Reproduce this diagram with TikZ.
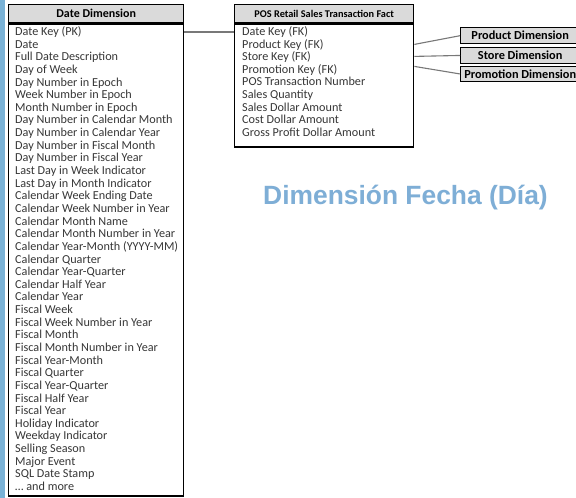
\documentclass[tikz,border=0pt]{standalone}
\usepackage{fontspec}
\setmainfont{Carlito}
\newfontfamily\titlefont{Liberation Sans}
\usetikzlibrary{calc}
\definecolor{barblue}{RGB}{122,178,214}
\definecolor{titleblue}{RGB}{126,174,214}
\definecolor{hdrgray}{RGB}{218,218,218}
\definecolor{itemgray}{RGB}{55,55,55}
\definecolor{linkgray}{RGB}{120,120,120}
\begin{document}
\begin{tikzpicture}[x=1pt,y=-1pt,
  frame/.style={draw=black, line width=1.4pt},
  hdr/.style={frame, fill=hdrgray, inner sep=0pt, anchor=north west},
  body/.style={frame, fill=white, inner sep=0pt, anchor=north west},
  item/.style={anchor=base west, inner sep=0pt, text=itemgray, font=\fontsize{12.2}{13}\selectfont},
  dimbox/.style={frame, fill=hdrgray, inner sep=0pt, anchor=north west, minimum width=119pt, font=\bfseries\fontsize{12.3}{13}\selectfont},
  link/.style={draw=linkgray, line width=1.1pt}]
\useasboundingbox (0,0) rectangle (576,498);
\fill[white] (0,0) rectangle (576,498);
% blue strip along the left edge
\fill[barblue] (0,0) rectangle (5,498);

% Date dimension table
\node[hdr, minimum width=175pt, minimum height=18pt, font=\bfseries\fontsize{12}{13}\selectfont] (dateh) at (8,4) {Date Dimension};
\node[body, minimum width=175pt, minimum height=472pt] (dateb) at (dateh.south west) {};
\foreach \t [count=\i] in {Date Key (PK), Date, Full Date Description, Day of Week,
  Day Number in Epoch, Week Number in Epoch, Month Number in Epoch,
  Day Number in Calendar Month, Day Number in Calendar Year,
  Day Number in Fiscal Month, Day Number in Fiscal Year,
  Last Day in Week Indicator, Last Day in Month Indicator,
  Calendar Week Ending Date, Calendar Week Number in Year, Calendar Month Name,
  Calendar Month Number in Year, Calendar Year-Month (YYYY-MM), Calendar Quarter,
  Calendar Year-Quarter, Calendar Half Year, Calendar Year, Fiscal Week,
  Fiscal Week Number in Year, Fiscal Month, Fiscal Month Number in Year,
  Fiscal Year-Month, Fiscal Quarter, Fiscal Year-Quarter, Fiscal Half Year,
  Fiscal Year, Holiday Indicator, Weekday Indicator, Selling Season, Major Event,
  SQL Date Stamp, {\ldots} and more}
  \node[item] (d\i) at (15,{35.5+12.64*(\i-1)}) {\t};

% Fact table
\node[hdr, minimum width=179pt, minimum height=18pt, font=\bfseries\fontsize{10.3}{12}\selectfont] (facth) at (234,4) {POS Retail Sales Transaction Fact};
\node[body, minimum width=179pt, minimum height=123pt] (factb) at (facth.south west) {};
\foreach \t [count=\i] in {Date Key (FK), Product Key (FK), Store Key (FK),
  Promotion Key (FK), POS Transaction Number, Sales Quantity,
  Sales Dollar Amount, Cost Dollar Amount, Gross Profit Dollar Amount}
  \node[item] (f\i) at (242,{35.5+12.6*(\i-1)}) {\t};

% Other dimensions
\node[dimbox, minimum height=16pt] (prod) at (460,27) {Product Dimension};
\node[dimbox, minimum height=15.5pt] (store) at (460,47) {Store Dimension};
\node[dimbox, minimum height=15.5pt] (promo) at (460,65.5) {Promotion Dimension};

% Key links
\draw[link] (dateb.east |- d1) -- (factb.west |- d1);
\draw[link] ($(factb.north east)+(0,21)$) -- (prod.west);
\draw[link] ($(factb.north east)+(0,33)$) -- (store.west);
\draw[link] ($(factb.north east)+(0,43)$) -- (promo.west);

% Caption
\node[anchor=base west, inner sep=0pt, text=titleblue,
  font=\titlefont\bfseries\fontsize{26.4}{30}\selectfont] (title) at (263,204) {Dimensión Fecha (Día)};
\end{tikzpicture}
\end{document}
